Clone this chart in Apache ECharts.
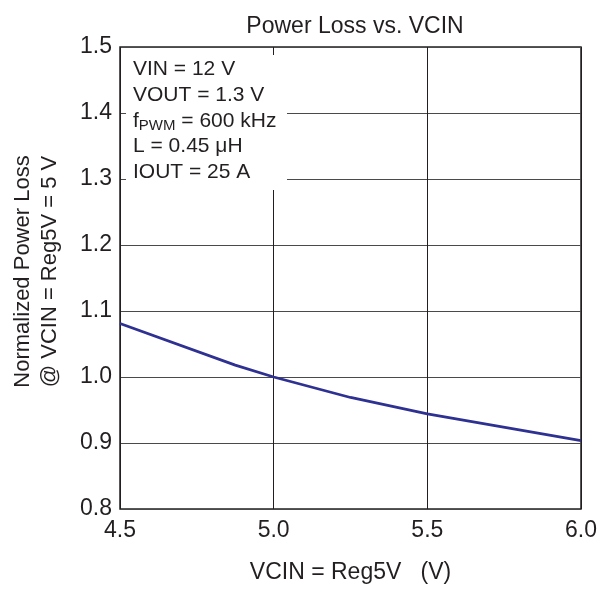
<!DOCTYPE html>
<html><head><meta charset="utf-8">
<script src="https://cdn.jsdelivr.net/npm/echarts@6/dist/echarts.min.js"></script>
<style>html,body{margin:0;padding:0;background:#fff}#c{width:610px;height:592px}</style>
</head><body><div id="c"></div>
<script>
const vcin = [4.5, 4.875, 5.0, 5.25, 5.5, 6.0];
const powerLoss = [1.081, 1.018, 1.0, 0.969, 0.944, 0.9035];
const xTicks = [4.5, 5.0, 5.5, 6.0];
const yTicks = [0.8, 0.9, 1.0, 1.1, 1.2, 1.3, 1.4, 1.5];
const titleText = 'Power Loss vs. VCIN';
const xName = 'VCIN = Reg5V   (V)';
const yName = 'Normalized Power Loss\n@ VCIN = Reg5V = 5 V';
const noteLines = ['VIN = 12 V', 'VOUT = 1.3 V', ['f', 'PWM', ' = 600 kHz'], 'L = 0.45 μH', 'IOUT = 25 A'];

const FONT = 'Liberation Sans, Arial, Helvetica, sans-serif';
const TXT = '#231f20';
const chart = echarts.init(document.getElementById('c'));
const noteText = noteLines.map(l => Array.isArray(l) ? `{n|${l[0]}}{s|${l[1]}}{n|${l[2]}}` : `{n|${l}}`).join('\n');

chart.setOption({
  animation: false,
  backgroundColor: '#fff',
  title: { text: titleText, left: 350, textAlign: 'center', top: 10,
    textStyle: { fontFamily: FONT, fontSize: 23, fontWeight: 'normal', color: TXT } },
  grid: { left: 120, right: 29, top: 47, bottom: 83, show: true, borderColor: '#231f20', borderWidth: 1.5 },
  xAxis: {
    type: 'value', min: 4.5, max: 6.0, interval: 0.5,
    name: xName, nameLocation: 'middle', nameGap: 52,
    nameTextStyle: { fontFamily: FONT, fontSize: 23, color: TXT },
    axisLine: { show: false }, axisTick: { show: false },
    axisLabel: { fontFamily: FONT, fontSize: 23, color: TXT, margin: 10,
      formatter: v => xTicks.includes(+v.toFixed(2)) ? v.toFixed(1) : '' },
    splitLine: { show: true, lineStyle: { color: '#231f20', width: 1 } }
  },
  yAxis: {
    type: 'value', min: 0.8, max: 1.5, interval: 0.1,
    name: yName, nameLocation: 'middle', nameGap: 57, nameRotate: 90,
    nameTextStyle: { fontFamily: FONT, fontSize: 22, color: TXT, lineHeight: 27, padding: [0, 0, 0, 13] },
    axisLine: { show: false }, axisTick: { show: false },
    axisLabel: { fontFamily: FONT, fontSize: 23, color: TXT, margin: 8,
      formatter: v => yTicks.includes(+v.toFixed(2)) ? v.toFixed(1) : '' },
    splitLine: { show: true, lineStyle: { color: '#4a4a4a', width: 1 } }
  },
  series: [{
    type: 'line', data: vcin.map((x, i) => [x, powerLoss[i]]),
    showSymbol: false, smooth: false, z: 3,
    lineStyle: { color: '#2e3192', width: 2.75 }
  }],
  graphic: [
    { type: 'rect', left: 126, top: 55, z: 10, shape: { width: 161, height: 135 }, style: { fill: '#fff' } },
    { type: 'text', left: 133, top: 59, z: 11,
      style: { text: noteText, fill: TXT, font: '21px ' + FONT,
        rich: {
          n: { fontFamily: FONT, fontSize: 21, color: TXT, lineHeight: 25.7 },
          s: { fontFamily: FONT, fontSize: 15, color: TXT, lineHeight: 16, verticalAlign: 'bottom' }
        } } }
  ]
});
</script></body></html>
